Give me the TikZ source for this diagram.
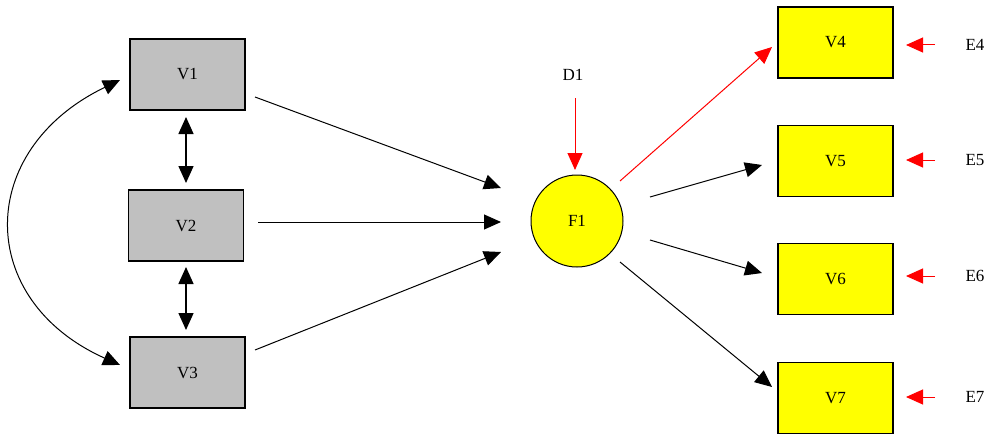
\documentclass[tikz,border=0pt]{standalone}
\usepackage{fontspec}
\setmainfont{Liberation Serif}
\usetikzlibrary{arrows.meta}
\definecolor{boxgray}{HTML}{C0C0C0}
\definecolor{boxyellow}{HTML}{FFFF00}
\tikzset{
  txt/.style={font=\fontsize{17}{19}\selectfont},
  graybox/.style={txt, draw=black, line width=1.2pt, fill=boxgray, minimum width=115pt, minimum height=71pt, inner sep=0pt},
  yellowbox/.style={txt, draw=black, line width=1.2pt, fill=boxyellow, minimum width=115pt, minimum height=71pt, inner sep=0pt},
  lbl/.style={txt, inner sep=0pt},
  tip/.style={-{Triangle[length=17pt,width=15pt]}},
  dtip/.style={{Triangle[length=17pt,width=15pt]}-{Triangle[length=17pt,width=15pt]}},
  conn/.style={line width=1pt, black},
  redconn/.style={line width=1pt, red},
}
\begin{document}
\begin{tikzpicture}[x=1pt,y=-1pt]
\useasboundingbox (0,0) rectangle (991,436);
% left boxes
\node[graybox] (V1) at (187.5,74.5) {V1};
\node[graybox] (V2) at (186,225.5) {V2};
\node[graybox] (V3) at (187.5,372.5) {V3};
% factor
\node[txt, circle, draw=black, line width=1pt, fill=boxyellow, minimum size=92pt, inner sep=0pt] (F1) at (577,221) {F1};
\node[lbl] (D1) at (573,75) {D1};
% right boxes
\node[yellowbox] (V4) at (835.5,42.5) {V4};
\node[yellowbox] (V5) at (835.5,161) {V5};
\node[yellowbox] (V6) at (835.5,279) {V6};
\node[yellowbox] (V7) at (835.5,398) {V7};
\node[lbl] (E4) at (975,45) {E4};
\node[lbl] (E5) at (975,160) {E5};
\node[lbl] (E6) at (975,276) {E6};
\node[lbl] (E7) at (975,397) {E7};
% helper coordinates
\coordinate (c1a) at (120,80);
\coordinate (c3a) at (120,365);
\coordinate (v1b) at (186,117);
\coordinate (v2t) at (186,183);
\coordinate (v2b) at (186,267);
\coordinate (v3t) at (186,330);
\coordinate (v1o) at (255,97);
\coordinate (v2o) at (258,222);
\coordinate (v3o) at (255,350);
\coordinate (f1a) at (501,188);
\coordinate (f1b) at (501,222);
\coordinate (f1c) at (501,252);
\coordinate (d1s) at (575,98);
\coordinate (d1e) at (575,170);
\coordinate (f4) at (620,181);
\coordinate (f5) at (650,197);
\coordinate (f6) at (650,240);
\coordinate (f7) at (620,262);
\coordinate (v4i) at (772,47);
\coordinate (v5i) at (762,165);
\coordinate (v6i) at (762,273);
\coordinate (v7i) at (772,387);
\coordinate (e4s) at (935,45);
\coordinate (e4e) at (906,45);
\coordinate (e5s) at (935,160);
\coordinate (e5e) at (906,160);
\coordinate (e6s) at (935,276);
\coordinate (e6e) at (906,276);
\coordinate (e7s) at (935,397);
\coordinate (e7e) at (906,397);
% covariances
\draw[conn, dtip] (c1a) .. controls (-25,150) and (-25,300) .. (c3a);
\draw[conn, line width=1.5pt, dtip] (v1b) -- (v2t);
\draw[conn, line width=1.5pt, dtip] (v2b) -- (v3t);
% regressions to F1
\draw[conn, tip] (v1o) -- (f1a);
\draw[conn, tip] (v2o) -- (f1b);
\draw[conn, tip] (v3o) -- (f1c);
\draw[redconn, tip] (d1s) -- (d1e);
% loadings
\draw[redconn, tip] (f4) -- (v4i);
\draw[conn, tip] (f5) -- (v5i);
\draw[conn, tip] (f6) -- (v6i);
\draw[conn, tip] (f7) -- (v7i);
% errors
\draw[redconn, tip] (e4s) -- (e4e);
\draw[redconn, tip] (e5s) -- (e5e);
\draw[redconn, tip] (e6s) -- (e6e);
\draw[redconn, tip] (e7s) -- (e7e);
\end{tikzpicture}
\end{document}
